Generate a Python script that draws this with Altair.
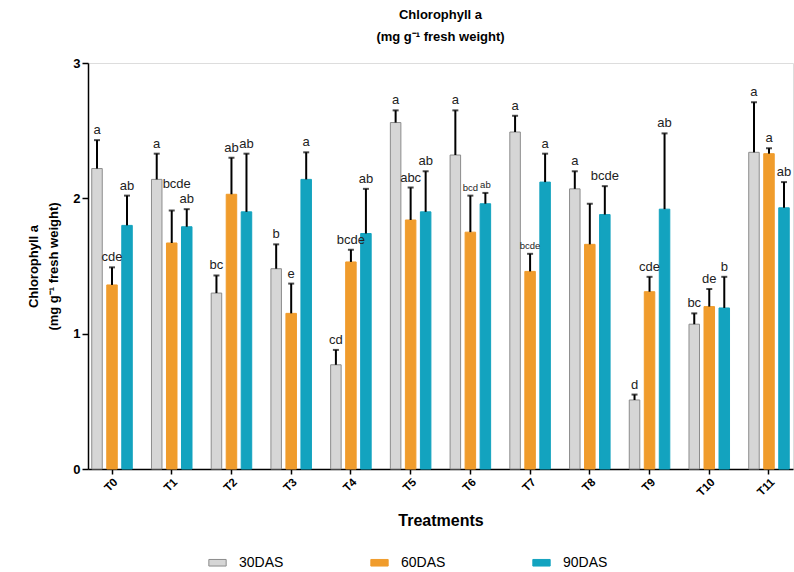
import altair as alt
import pandas as pd

treatments = ["T0", "T1", "T2", "T3", "T4", "T5", "T6", "T7", "T8", "T9", "T10", "T11"]
series = ["30DAS", "60DAS", "90DAS"]

mean_30 = [2.22, 2.14, 1.30, 1.48, 0.77, 2.56, 2.32, 2.49, 2.07, 0.51, 1.07, 2.34]
top_30 = [2.43, 2.33, 1.43, 1.66, 0.88, 2.65, 2.65, 2.61, 2.20, 0.55, 1.15, 2.71]
lab_30 = ["a", "a", "bc", "b", "cd", "a", "a", "a", "a", "d", "bc", "a"]

mean_60 = [1.36, 1.67, 2.03, 1.15, 1.53, 1.84, 1.75, 1.46, 1.66, 1.31, 1.20, 2.33]
top_60 = [1.49, 1.91, 2.30, 1.37, 1.62, 2.08, 2.02, 1.59, 1.96, 1.42, 1.33, 2.37]
lab_60 = ["cde", "bcde", "ab", "e", "bcde", "abc", "bcd", "bcde", "", "cde", "de", "a"]

mean_90 = [1.80, 1.79, 1.90, 2.14, 1.74, 1.90, 1.96, 2.12, 1.88, 1.92, 1.19, 1.93]
top_90 = [2.02, 1.92, 2.33, 2.34, 2.07, 2.20, 2.04, 2.33, 2.09, 2.48, 1.42, 2.12]
lab_90 = ["ab", "ab", "ab", "a", "ab", "ab", "ab", "a", "bcde", "ab", "b", "ab"]

small_labels = [("T6", "60DAS"), ("T6", "90DAS"), ("T7", "60DAS")]
raised_labels = [("T1", "60DAS")]

rows = []
for s, m, t, l in [("30DAS", mean_30, top_30, lab_30),
                   ("60DAS", mean_60, top_60, lab_60),
                   ("90DAS", mean_90, top_90, lab_90)]:
    for i, tr in enumerate(treatments):
        kind = "small" if (tr, s) in small_labels else ("raised" if (tr, s) in raised_labels else "normal")
        rows.append({"treatment": tr, "series": s, "mean": m[i], "upper": t[i],
                     "label": l[i], "kind": kind})
df = pd.DataFrame(rows)

FONT = "Liberation Sans"
fill_colors = ["#d6d6d6", "#f09c2c", "#13a3bf"]
stroke_colors = ["#8c8c8c", "#f09c2c", "#13a3bf"]

x_enc = alt.X("treatment:N", sort=treatments,
              scale=alt.Scale(paddingInner=0.246, paddingOuter=0.025),
              axis=alt.Axis(title="Treatments", labelAngle=-45, labelFontWeight="bold",
                            labelFontSize=11.5, labelColor="black", titleFontSize=16,
                            titleFontWeight="bold", titleColor="black", titlePadding=14,
                            domainColor="black", domainWidth=1.5, tickColor="black",
                            tickWidth=1.5, tickSize=5, labelFont=FONT, titleFont=FONT,
                            labelPadding=2))
xoff = alt.XOffset("series:N", sort=series,
                   scale=alt.Scale(paddingInner=0.3, paddingOuter=0.15))
y_scale = alt.Scale(domain=[0, 3], nice=False)

base = alt.Chart(df)

bars = base.mark_bar(strokeWidth=1).encode(
    x=x_enc,
    xOffset=xoff,
    y=alt.Y("mean:Q", scale=y_scale,
            axis=alt.Axis(title=["Chlorophyll a", "(mg g\u207b\u00b9 fresh weight)"],
                          values=[0, 1, 2, 3], format="d", grid=False, labelFontWeight="bold",
                          labelFontSize=13, labelColor="black", titleFontSize=13,
                          titleFontWeight="bold", titleColor="black", titlePadding=12,
                          titleLineHeight=20,
                          domainColor="black", domainWidth=1.5, tickColor="black",
                          tickWidth=1.5, tickSize=6, labelFont=FONT, titleFont=FONT)),
    fill=alt.Fill("series:N", sort=series,
                  scale=alt.Scale(domain=series, range=fill_colors),
                  legend=alt.Legend(title=None, orient="none", legendX=120, legendY=490,
                                    direction="horizontal", columns=3, columnPadding=84,
                                    symbolType="M-1,-0.38L1,-0.38L1,0.38L-1,0.38Z",
                                    symbolSize=300, symbolStrokeWidth=1,
                                    labelFontSize=14, labelFont=FONT, labelColor="black",
                                    labelOffset=12)),
    stroke=alt.Stroke("series:N", sort=series,
                      scale=alt.Scale(domain=series, range=stroke_colors),
                      legend=None),
)

errs = base.mark_rule(color="black", strokeWidth=2).encode(
    x=alt.X("treatment:N", sort=treatments),
    xOffset=xoff,
    y=alt.Y("mean:Q", scale=y_scale),
    y2="upper:Q",
)

caps = base.mark_tick(color="black", thickness=2, size=6, orient="horizontal").encode(
    x=alt.X("treatment:N", sort=treatments),
    xOffset=xoff,
    y=alt.Y("upper:Q", scale=y_scale),
)


def label_layer(kind, size, dy, dx=0):
    return base.transform_filter(alt.datum.kind == kind).mark_text(
        baseline="bottom", dy=dy, dx=dx, fontSize=size, font=FONT, color="#222"
    ).encode(
        x=alt.X("treatment:N", sort=treatments),
        xOffset=xoff,
        y=alt.Y("upper:Q", scale=y_scale),
        text="label:N",
    )


labels = label_layer("normal", 13, -3)
labels_small = label_layer("small", 9.5, -3)
labels_raised = label_layer("raised", 13, -20, 5)

chart = alt.layer(bars, errs, caps, labels, labels_small, labels_raised).properties(
    width=705, height=406,
    autosize=alt.AutoSizeParams(type="none"),
    padding={"left": 88, "top": 63, "right": 1, "bottom": 103},
    title=alt.TitleParams(["Chlorophyll a", "(mg g\u207b\u00b9 fresh weight)"],
                          fontSize=13, fontWeight="bold", font=FONT, color="black",
                          anchor="middle", offset=13, lineHeight=22),
).configure_view(stroke=None).configure(background="white")

chart.save("out.html", embed_options={"renderer": "svg", "actions": False})
